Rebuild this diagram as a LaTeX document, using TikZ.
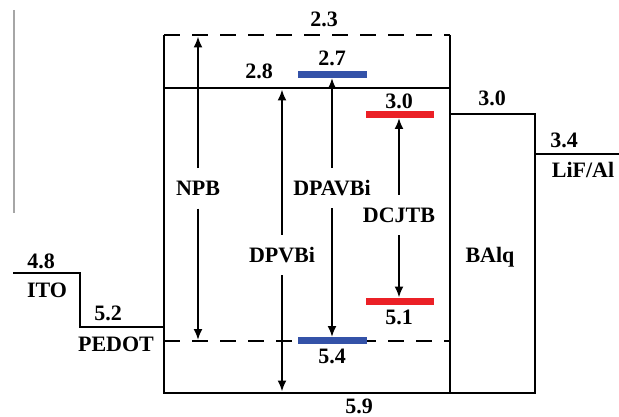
\documentclass[tikz,border=0pt]{standalone}
\usepackage{fontspec}
\setmainfont{Liberation Serif}
\usetikzlibrary{arrows.meta}
\definecolor{barblue}{RGB}{52,82,168}
\definecolor{barred}{RGB}{235,32,38}
\begin{document}
\begin{tikzpicture}[x=1pt,y=-1pt,
  lbl/.style={font=\bfseries\fontsize{22}{24}\selectfont, inner sep=0pt, text height=14.5pt, text depth=0pt},
  arrlbl/.style={lbl, outer sep=13pt},
  lvl/.style={line width=2.9pt, line join=miter},
  dlvl/.style={line width=2.6pt, dash pattern=on 16pt off 12pt},
  thinlvl/.style={line width=2.4pt, line join=miter},
  bar/.style={line width=7pt},
  arr/.style={line width=1.9pt, -{Latex[length=11pt,width=9pt]}},
]
\useasboundingbox (0,0) rectangle (619,417);
% coordinates
\coordinate (sT) at (14,10); \coordinate (sB) at (14,213);
\coordinate (bTL) at (164,35); \coordinate (bTR) at (450,35);
\coordinate (lumoL) at (164,88); \coordinate (lumoR) at (450,88);
\coordinate (homoL) at (164,341); \coordinate (homoR) at (450,341);
\coordinate (bBL) at (164,393); \coordinate (bBR) at (450,393);
\coordinate (aTL) at (450,114); \coordinate (aTR) at (535,114); \coordinate (aBR) at (535,393);
\coordinate (lifL) at (535,154); \coordinate (lifR) at (619,154);
\coordinate (itoL) at (13,273); \coordinate (itoR) at (80,273);
\coordinate (pedL) at (80,327); \coordinate (pedR) at (164,327);
\coordinate (b1L) at (298,74.5); \coordinate (b1R) at (367,74.5);
\coordinate (b2L) at (298,340.5); \coordinate (b2R) at (367,340.5);
\coordinate (r1L) at (366,115); \coordinate (r1R) at (434,115);
\coordinate (r2L) at (366,301); \coordinate (r2R) at (434,301);
% stray line
\draw[gray!70, line width=1.2pt] (sT) -- (sB);
% levels
\draw[dlvl] (bTL) -- (bTR);
\draw[dlvl] (homoL) -- (homoR);
\draw[lvl] (bTL) -- (bBL) -- (aBR) -- (aTR) -- (aTL);
\draw[lvl] (bTR) -- (bBR);
\draw[lvl] (lumoL) -- (lumoR);
\draw[thinlvl] (itoL) -- (itoR) -- (pedL) -- (pedR);
\draw[line width=1.8pt] (lifL) -- (lifR);
% bars
\draw[bar, barblue] (b1L) -- (b1R);
\draw[bar, barblue] (b2L) -- (b2R);
\draw[bar, barred] (r1L) -- (r1R);
\draw[bar, barred] (r2L) -- (r2R);
% arrow labels
\node[arrlbl] (npb) at (198,188.5) {NPB};
\node[arrlbl] (dpvbi) at (282,255) {DPVBi};
\node[arrlbl] (dpavbi) at (332,188) {DPAVBi};
\node[arrlbl] (dcjtb) at (399,215) {DCJTB};
\coordinate (npbT) at (198,36.5); \coordinate (npbB) at (198,340);
\coordinate (dpvT) at (282,89.5); \coordinate (dpvB) at (282,391.5);
\coordinate (dpaT) at (332,78); \coordinate (dpaB) at (332,337);
\coordinate (dcjT) at (399,118); \coordinate (dcjB) at (399,297.5);
\draw[arr] (npb.north) -- (npbT);
\draw[arr] (npb.south) -- (npbB);
\draw[arr] (dpvbi.north) -- (dpvT);
\draw[arr] (dpvbi.south) -- (dpvB);
\draw[arr] (dpavbi.north) -- (dpaT);
\draw[arr] (dpavbi.south) -- (dpaB);
\draw[arr] (dcjtb.north) -- (dcjT);
\draw[arr] (dcjtb.south) -- (dcjB);
% value labels
\node[lbl] (v23) at (324,19) {2.3};
\node[lbl] (v28) at (259,71.5) {2.8};
\node[lbl] (v27) at (332,58.5) {2.7};
\node[lbl] (v30r) at (399,101.5) {3.0};
\node[lbl] (v30b) at (492,98.5) {3.0};
\node[lbl] (v34) at (564,140.5) {3.4};
\node[lbl] (lif) at (583,170) {LiF/Al};
\node[lbl] (balq) at (490,255.5) {BAlq};
\node[lbl] (v48) at (41,261) {4.8};
\node[lbl] (ito) at (47,290) {ITO};
\node[lbl] (v52) at (108,313) {5.2};
\node[lbl] (pedot) at (116,344) {PEDOT};
\node[lbl] (v51) at (399,317.5) {5.1};
\node[lbl] (v54) at (332,356) {5.4};
\node[lbl] (v59) at (359,406) {5.9};
\end{tikzpicture}
\end{document}
